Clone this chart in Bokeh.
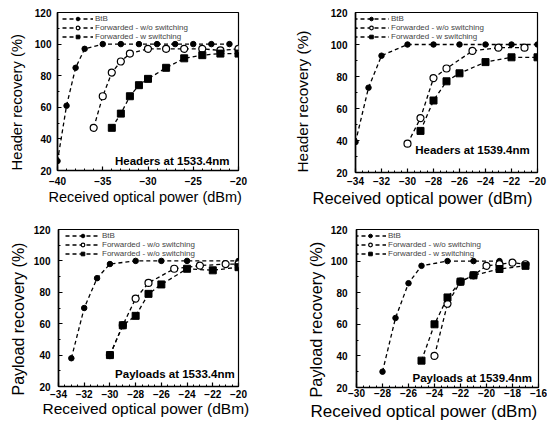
from bokeh.plotting import figure
from bokeh.layouts import column, row
from bokeh.models import FixedTicker, Legend, LegendItem, Label, Range1d, Title
from bokeh.embed import file_html
from bokeh.resources import INLINE

FONT = "Liberation Sans"

# ---------------- data ----------------
# Headers at 1533.4nm
h1_x_btb = [-40, -39, -38, -37, -35, -33, -31, -29, -27, -25, -23, -21]
h1_y_btb = [26, 61, 85, 97, 100, 100, 100, 100, 100, 100, 100, 100]
h1_x_wo = [-36, -35, -34, -33, -32, -30, -28, -26, -24, -22, -20]
h1_y_wo = [47, 67, 82, 89, 94, 97, 97, 97, 97, 96, 97]
h1_x_w = [-34, -33, -32, -31, -30, -28, -26, -24, -22, -20]
h1_y_w = [47, 56, 67, 74, 78, 85, 91, 93, 94, 94]

# Headers at 1539.4nm
h2_x_btb = [-34, -33, -32, -30, -28, -26, -24, -22, -20]
h2_y_btb = [39, 73, 93, 100, 100, 100, 100, 100, 100]
h2_x_wo = [-30, -29, -28, -27, -25, -23, -21]
h2_y_wo = [38, 54, 79, 85, 96, 98, 98]
h2_x_w = [-29, -28, -27, -26, -24, -22, -20]
h2_y_w = [46, 65, 77, 82, 89, 92, 92]

# Payloads at 1533.4nm
p1_x_btb = [-33, -32, -31, -30, -28, -26, -24, -20]
p1_y_btb = [38, 70, 89, 98, 100, 100, 100, 100]
p1_x_wo = [-30, -29, -28, -27, -25, -23, -21, -20]
p1_y_wo = [40, 59, 76, 86, 95, 97, 98, 98]
p1_x_w = [-30, -29, -28, -27, -26, -24, -22, -20]
p1_y_w = [40, 59, 65, 79, 85, 95, 94, 96]

# Payloads at 1539.4nm
p2_x_btb = [-28, -27, -26, -25, -23, -21, -19]
p2_y_btb = [30, 64, 86, 97, 100, 100, 100]
p2_x_wo = [-24, -23, -22, -21, -20, -19, -18, -17]
p2_y_wo = [40, 73, 87, 91, 97, 98, 99, 98]
p2_x_w = [-25, -24, -23, -22, -21, -19, -17]
p2_y_w = [37, 60, 77, 87, 91, 95, 97]

y_ticks = [20, 40, 60, 80, 100, 120]
x_ticks_h1 = [-40, -35, -30, -25, -20]
x_ticks_h2 = [-34, -32, -30, -28, -26, -24, -22, -20]
x_ticks_p1 = [-34, -32, -30, -28, -26, -24, -22, -20]
x_ticks_p2 = [-30, -28, -26, -24, -22, -20, -18, -16]

X_TITLE = "Received optical power (dBm)"

panels = [
    dict(title="Headers at 1533.4nm", ylabel="Header recovery (%)",
         xr=(-40, -20), xt=x_ticks_h1, xminor=1.0,
         series=[(h1_x_btb, h1_y_btb), (h1_x_wo, h1_y_wo), (h1_x_w, h1_y_w)],
         labels=["BtB", "Forwarded - w/o switching", "Forwarded - w switching"],
         fw=181, fh=158, bl=57, br=24, bt=12, bb=49,
         ys=6, xs=6, lx=5, gw=31, ann=(-21, 26),
         xtitle=(-9, -2, "14.5px"), ytitle=(0, 13, "14.8px")),
    dict(title="Headers at 1539.4nm", ylabel="Header recovery (%)",
         xr=(-34, -20), xt=x_ticks_h2, xminor=0.5,
         series=[(h2_x_btb, h2_y_btb), (h2_x_wo, h2_y_wo), (h2_x_w, h2_y_w)],
         labels=["BtB", "Forwarded - w/o switching", "Forwarded - w switching"],
         fw=182, fh=160, bl=93, br=10, bt=12, bb=47,
         ys=8, xs=4, lx=-2, gw=36, ann=(-20.6, 34),
         xtitle=(-43, -1, "16.5px"), ytitle=(0, 34, "15.4px")),
    dict(title="Payloads at 1533.4nm", ylabel="Payload recovery (%)",
         xr=(-34, -20), xt=x_ticks_p1, xminor=0.5,
         series=[(p1_x_btb, p1_y_btb), (p1_x_wo, p1_y_wo), (p1_x_w, p1_y_w)],
         labels=["BtB", "Forwarded - w/o switching", "Forwarded - w/o switching"],
         fw=180, fh=157, bl=58, br=24, bt=10, bb=39,
         ys=8, xs=3, lx=7, gw=35, ann=(-20.3, 28),
         xtitle=(-16, -6, "15.5px"), ytitle=(-9, 8, "16px")),
    dict(title="Payloads at 1539.4nm", ylabel="Payload recovery (%)",
         xr=(-30, -16), xt=x_ticks_p2, xminor=0.5,
         series=[(p2_x_btb, p2_y_btb), (p2_x_wo, p2_y_wo), (p2_x_w, p2_y_w)],
         labels=["BtB", "Forwarded - w/o switching", "Forwarded - w switching"],
         fw=182, fh=158, bl=94, br=9, bt=10, bb=38,
         ys=9, xs=1, lx=-2, gw=32, ann=(-16.5, 26),
         xtitle=(-46, 0, "17px"), ytitle=(-10, 5, "16.3px")),
]

marker_styles = [
    dict(marker="circle", size=5.5, fill_color="black", line_color="black"),
    dict(marker="circle", size=7, fill_color="white", line_color="black", line_width=1.2),
    dict(marker="square", size=7, fill_color="black", line_color="black"),
]


def frange(a, b, step):
    out = []
    v = a
    while v <= b + 1e-9:
        out.append(round(v, 3))
        v += step
    return out


def make_panel(c):
    p = figure(frame_width=c["fw"], frame_height=c["fh"],
               x_range=Range1d(*c["xr"]), y_range=Range1d(20, 120),
               output_backend="svg", toolbar_location=None,
               min_border_left=c["bl"], min_border_right=c["br"],
               min_border_top=c["bt"], min_border_bottom=c["bb"],
               background_fill_color="white", border_fill_color="white")
    p.outline_line_color = "black"
    p.outline_line_width = 1.2
    p.grid.visible = False

    p.xaxis.ticker = FixedTicker(ticks=c["xt"],
                                 minor_ticks=frange(c["xr"][0], c["xr"][1], c["xminor"]))
    p.yaxis.ticker = FixedTicker(ticks=y_ticks, minor_ticks=frange(20, 120, 10))
    for ax in (p.xaxis[0], p.yaxis[0]):
        ax.axis_line_width = 1.6
        ax.axis_line_color = "black"
        ax.major_tick_in = 4
        ax.major_tick_out = 0
        ax.minor_tick_in = 2
        ax.minor_tick_out = 0
        ax.major_tick_line_width = 1.2
        ax.major_label_text_font = FONT
        ax.major_label_text_font_size = "10px"
        ax.major_label_text_font_style = "bold"
        ax.major_label_text_color = "black"
    p.xaxis.major_label_standoff = c["xs"]
    p.yaxis.major_label_standoff = c["ys"]

    items = []
    for (xs, ys), ms, lab in zip(c["series"], marker_styles, c["labels"]):
        lr = p.line(xs, ys, line_color="black", line_width=1.3, line_dash="4 3")
        sr = p.scatter(xs, ys, **ms)
        items.append(LegendItem(label=lab, renderers=[lr, sr]))

    legend = Legend(items=items, location=(c["lx"], c["fh"] - 29),
                    label_text_font=FONT, label_text_font_size="8px",
                    label_text_line_height=1.0,
                    label_height=9, glyph_height=9, glyph_width=c["gw"],
                    label_standoff=2, spacing=0, padding=0, margin=0,
                    border_line_color=None, background_fill_alpha=0)
    p.add_layout(legend)

    ax_, ay_ = c["ann"]
    p.add_layout(Label(x=ax_, y=ay_, text=c["title"], text_align="right",
                       text_baseline="middle", text_font=FONT,
                       text_font_size="11.5px", text_font_style="bold",
                       text_color="black"))

    xoff, xstand, xsize = c["xtitle"]
    p.add_layout(Title(text=X_TITLE, align="left", offset=xoff, standoff=xstand,
                       text_font=FONT, text_font_size=xsize,
                       text_font_style="normal", text_color="black"), "below")
    yoff, ystand, ysize = c["ytitle"]
    p.add_layout(Title(text=c["ylabel"], align="left", offset=yoff, standoff=ystand,
                       text_font=FONT, text_font_size=ysize,
                       text_font_style="normal", text_color="black"), "left")
    return p


figs = [make_panel(c) for c in panels]
layout = column(row(figs[0], figs[1]), row(figs[2], figs[3]))

open("out.html", "w").write(file_html(layout, INLINE))
